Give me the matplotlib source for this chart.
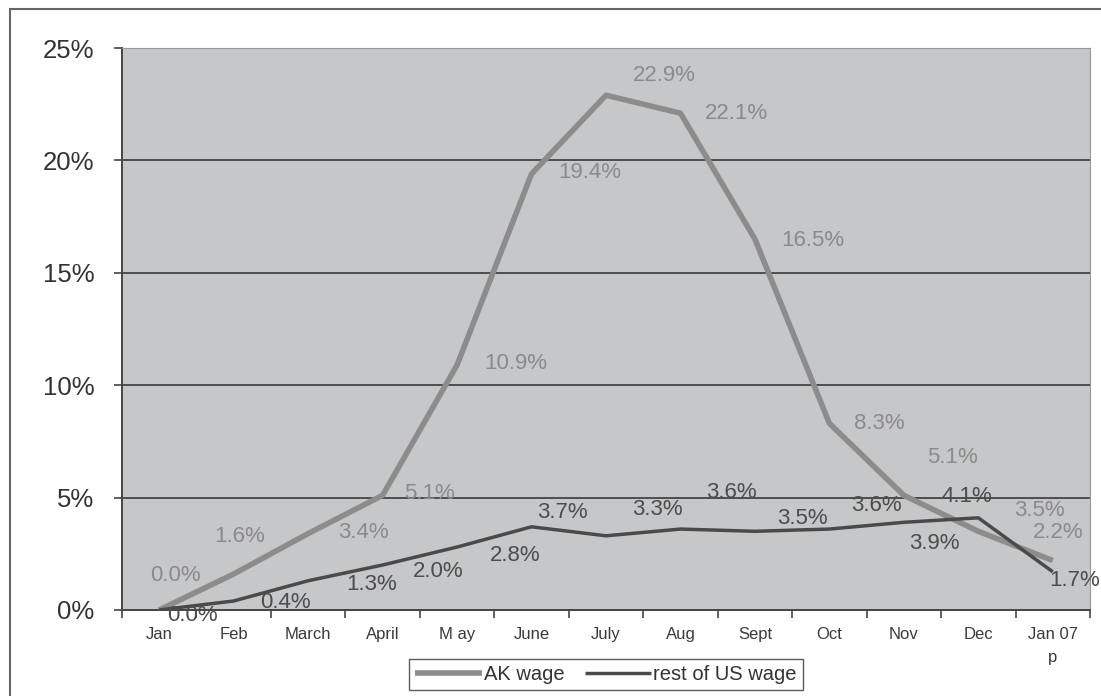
import numpy as np
import matplotlib.pyplot as plt
from matplotlib.patches import Rectangle

months = ['Jan', 'Feb', 'March', 'April', 'M ay', 'June', 'July', 'Aug',
          'Sept', 'Oct', 'Nov', 'Dec', 'Jan 07\np']
ak_wage = [0.0, 1.6, 3.4, 5.1, 10.9, 19.4, 22.9, 22.1, 16.5, 8.3, 5.1, 3.5, 2.2]
us_wage = [0.0, 0.4, 1.3, 2.0, 2.8, 3.7, 3.3, 3.6, 3.5, 3.6, 3.9, 4.1, 1.7]

# hand-tuned label offsets (points) so the labels don't sit on the lines
ak_off = [(12, 25), (4, 27), (40, 1), (34, 1), (42, 1), (42, 1), (42, 14),
          (40, 0), (42, -1), (36, 0), (35, 27), (44, 15), (4, 20)]
us_off = [(24, -4), (37, -1), (46, -3), (40, -5), (42, -6), (22, 10), (37, 19),
          (37, 26), (34, 9), (34, 17), (22, -15), (-8, 15), (16, -6)]

plt.rcParams['font.family'] = ['Liberation Sans', 'DejaVu Sans']

fig = plt.figure(figsize=(11.01, 6.96), dpi=100)
ax = fig.add_axes([0.1108, 0.1236, 0.8792, 0.8074])
ax.set_facecolor('#c6c7c9')

x = np.arange(len(months))
ak_col = '#8c8c8c'
us_col = '#4a4a4a'
ax.plot(x, ak_wage, color=ak_col, lw=4, label='AK wage', zorder=3, solid_capstyle='butt')
ax.plot(x, us_wage, color=us_col, lw=2.5, label='rest of US wage', zorder=4, solid_capstyle='butt')

for xi, v, off in zip(x, ak_wage, ak_off):
    ax.annotate(f'{v:.1f}%', (xi, v), xytext=off, textcoords='offset points',
                ha='center', va='center', fontsize=16, color='#8a8a8a',
                annotation_clip=False, zorder=5)
for xi, v, off in zip(x, us_wage, us_off):
    ax.annotate(f'{v:.1f}%', (xi, v), xytext=off, textcoords='offset points',
                ha='center', va='center', fontsize=16, color='#4c4c4c',
                annotation_clip=False, zorder=5)

ax.set_xlim(-0.5, len(months) - 0.5)
ax.set_ylim(0, 25)
ax.set_yticks([0, 5, 10, 15, 20, 25])
ax.set_yticklabels(['0%', '5%', '10%', '15%', '20%', '25%'], fontsize=18.5, color='#333333')
for g in [5, 10, 15, 20]:
    ax.axhline(g, color='#4d4d4d', lw=1.4, zorder=1)

ax.set_xticks(np.arange(-0.5, len(months)), labels=[''] * (len(months) + 1))
ax.set_xticks(x, labels=months, minor=True)
ax.tick_params(axis='x', which='major', length=6, width=1.2, color='#444444')
ax.tick_params(axis='x', which='minor', length=0, pad=12, labelsize=12, labelcolor='#3a3a3a')
for lbl in ax.get_xticklabels(minor=True):
    lbl.set_linespacing(1.7)
ax.tick_params(axis='y', length=6, width=1.2, color='#444444', pad=14)

for side in ['left', 'bottom']:
    ax.spines[side].set_color('#444444')
    ax.spines[side].set_linewidth(1.4)
ax.spines['top'].set_color('#9a9a9a')
ax.spines['right'].set_color('#9a9a9a')

leg = ax.legend(loc='lower center', bbox_to_anchor=(0.5, -0.16), ncol=2, frameon=True,
                fancybox=False, fontsize=14.5, handlelength=3.3, handletextpad=0.1,
                columnspacing=1.0, borderpad=0.3, edgecolor='#333333')
leg.get_frame().set_linewidth(1.0)
for t in leg.get_texts():
    t.set_color('#333333')

# outer chart frame, running off the right and bottom edges
fig.patches.append(Rectangle((10 / 1101, -0.05), 1.1, (696 - 9) / 696 + 0.05,
                             transform=fig.transFigure, fill=False,
                             edgecolor='#666666', lw=1.5))

fig.savefig('out.png', dpi=100)
